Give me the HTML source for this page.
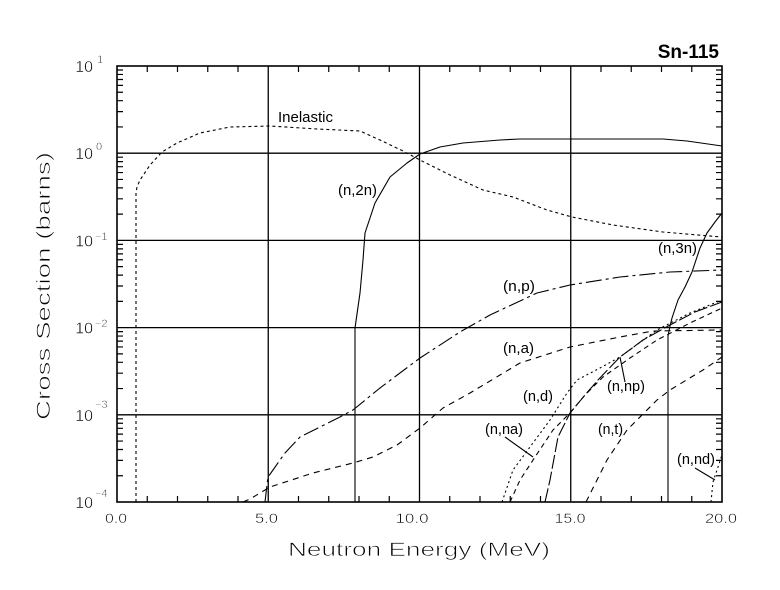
<!DOCTYPE html>
<html>
<head>
<meta charset="utf-8">
<style>
  html,body{margin:0;padding:0;background:#fff;}
  body{width:780px;height:590px;overflow:hidden;}
  svg{display:block;}
  text{font-family:"Liberation Sans",Arial,sans-serif;fill:#000;}
  .thin{stroke:#fff;stroke-width:0.7;paint-order:normal;}
  .thin2{stroke:#fff;stroke-width:0.45;}
</style>
</head>
<body>
<svg width="780" height="590" viewBox="0 0 780 590" xmlns="http://www.w3.org/2000/svg">
  <rect x="0" y="0" width="780" height="590" fill="#fff"/>

  <!-- grid -->
  <g stroke="#000" stroke-width="1.3" fill="none">
    <path d="M117,153.2H722 M117,240.4H722 M117,327.6H722 M117,414.8H722"/>
    <path d="M268.25,66V502 M419.5,66V502 M570.75,66V502"/>
  </g>

  <!-- frame -->
  <rect x="117" y="66" width="605" height="436" fill="none" stroke="#000" stroke-width="1.6"/>

  <!-- x minor ticks -->
  <g stroke="#000" stroke-width="1.2" fill="none">
    <path d="M147.25,502v-6M177.5,502v-6M207.75,502v-6M238,502v-6M298.5,502v-6M328.75,502v-6M359,502v-6M389.25,502v-6M449.75,502v-6M480,502v-6M510.25,502v-6M540.5,502v-6M601,502v-6M631.25,502v-6M661.5,502v-6M691.75,502v-6"/>
    <path d="M147.25,66v6M177.5,66v6M207.75,66v6M238,66v6M298.5,66v6M328.75,66v6M359,66v6M389.25,66v6M449.75,66v6M480,66v6M510.25,66v6M540.5,66v6M601,66v6M631.25,66v6M661.5,66v6M691.75,66v6"/>
    <!-- y minor ticks left -->
    <path d="M117,475.75h6M117,460.4h6M117,449.5h6M117,441.05h6M117,434.14h6M117,428.31h6M117,423.25h6M117,418.79h6
             M117,388.55h6M117,373.2h6M117,362.3h6M117,353.85h6M117,346.94h6M117,341.11h6M117,336.05h6M117,331.59h6
             M117,301.35h6M117,286h6M117,275.1h6M117,266.65h6M117,259.74h6M117,253.91h6M117,248.85h6M117,244.39h6
             M117,214.15h6M117,198.8h6M117,187.9h6M117,179.45h6M117,172.54h6M117,166.71h6M117,161.65h6M117,157.19h6
             M117,126.95h6M117,111.6h6M117,100.7h6M117,92.25h6M117,85.34h6M117,79.51h6M117,74.45h6M117,69.99h6"/>
    <!-- y minor ticks right -->
    <path d="M722,475.75h-6M722,460.4h-6M722,449.5h-6M722,441.05h-6M722,434.14h-6M722,428.31h-6M722,423.25h-6M722,418.79h-6
             M722,388.55h-6M722,373.2h-6M722,362.3h-6M722,353.85h-6M722,346.94h-6M722,341.11h-6M722,336.05h-6M722,331.59h-6
             M722,301.35h-6M722,286h-6M722,275.1h-6M722,266.65h-6M722,259.74h-6M722,253.91h-6M722,248.85h-6M722,244.39h-6
             M722,214.15h-6M722,198.8h-6M722,187.9h-6M722,179.45h-6M722,172.54h-6M722,166.71h-6M722,161.65h-6M722,157.19h-6
             M722,126.95h-6M722,111.6h-6M722,100.7h-6M722,92.25h-6M722,85.34h-6M722,79.51h-6M722,74.45h-6M722,69.99h-6"/>
  </g>

  <!-- curves -->
  <g fill="none" stroke="#000" stroke-width="1.1" stroke-linejoin="round">
    <!-- Inelastic (dotted) -->
    <polyline stroke-dasharray="3,3" points="136,502 136,193 137,187 140,180 150,165 162,152 177,143 200,133 230,127 270,126 317,129 360,131 380,140 403,151 420,160 450,175 483,190 513,197 547,210 572,217 613,225 663,232 722,237"/>
    <!-- (n,2n) solid -->
    <polyline points="355,502 355,328 360,293 363,260 365,233 375,203 390,177 407,163 420,154 440,147 463,143 500,140 520,139 663,139 687,141 722,146"/>
    <!-- (n,3n) solid -->
    <polyline points="668,502 668,336 670,326 672,318 678,300 685,287 692,272 700,248 707,233 715,222 722,213"/>
    <!-- (n,p) long dash-short dash -->
    <polyline stroke-dasharray="16,4,3,4" points="265,502 267,485 268,477 273,470 285,453 300,437 310,432 340,417 353,410 380,388 420,358 460,332 490,315 537,293 570,285 620,277 670,272 722,270"/>
    <!-- (n,a) dashed -->
    <polyline stroke-dasharray="6,5" points="243,502 250,499 270,487 313,473 353,463 373,457 397,445 420,428 443,408 470,393 520,363 570,347 620,337 653,331 722,330"/>
    <!-- (n,d) dotted -->
    <polyline stroke-dasharray="2,3" points="502,502 513,470 530,447 550,420 567,393 577,380 600,368 620,357 657,330 690,313 722,300"/>
    <!-- (n,np) -->
    <polyline stroke-dasharray="14,3" points="545,502 550,480 558,437 570,413 585,395 598,380 620,357 643,340 670,325 695,312 722,302"/>
    <!-- (n,na) dashed -->
    <polyline stroke-dasharray="5,4" points="510,502 520,480 535,457 553,430 570,413 585,395 603,377 630,358 657,340 690,323 722,308"/>
    <!-- (n,t) dashed -->
    <polyline stroke-dasharray="6,5" points="586,502 607,460 627,430 657,400 670,390 703,370 722,357"/>
    <!-- (n,nd) dotted -->
    <polyline stroke-dasharray="2,3" points="711,502 713,482 718,467 722,455"/>
    <!-- leader lines -->
    <path d="M505,437L533,457 M625,382L620,357 M695,468L715,480"/>
  </g>

  <!-- curve labels -->
  <g font-size="14.5">
    <text x="278" y="122" textLength="55" lengthAdjust="spacingAndGlyphs">Inelastic</text>
    <text x="338" y="195" textLength="39" lengthAdjust="spacingAndGlyphs">(n,2n)</text>
    <text x="658" y="253" textLength="39" lengthAdjust="spacingAndGlyphs">(n,3n)</text>
    <text x="503" y="291" textLength="32" lengthAdjust="spacingAndGlyphs">(n,p)</text>
    <text x="503" y="353" textLength="31" lengthAdjust="spacingAndGlyphs">(n,a)</text>
    <text x="607" y="391" textLength="38" lengthAdjust="spacingAndGlyphs">(n,np)</text>
    <text x="523" y="401" textLength="30" lengthAdjust="spacingAndGlyphs">(n,d)</text>
    <text x="485" y="434" textLength="38" lengthAdjust="spacingAndGlyphs">(n,na)</text>
    <text x="598" y="434" textLength="25" lengthAdjust="spacingAndGlyphs">(n,t)</text>
    <text x="677" y="464" textLength="38" lengthAdjust="spacingAndGlyphs">(n,nd)</text>
  </g>

  <!-- title -->
  <text x="719" y="58" font-size="19" font-weight="bold" text-anchor="end">Sn-115</text>

  <!-- x tick labels -->
  <g font-size="14" text-anchor="middle" class="thin2">
    <text x="116" y="523" textLength="22" lengthAdjust="spacingAndGlyphs">0.0</text>
    <text x="266.5" y="523" textLength="23" lengthAdjust="spacingAndGlyphs">5.0</text>
    <text x="412" y="523" textLength="33" lengthAdjust="spacingAndGlyphs">10.0</text>
    <text x="570" y="523" textLength="31" lengthAdjust="spacingAndGlyphs">15.0</text>
    <text x="721" y="523" textLength="32" lengthAdjust="spacingAndGlyphs">20.0</text>
  </g>

  <!-- y tick labels -->
  <g font-size="16" class="thin2">
    <text x="93" y="72" text-anchor="end">10</text>
    <text x="97" y="63" font-size="11">1</text>
    <text x="93" y="159" text-anchor="end">10</text>
    <text x="96" y="150" font-size="11">0</text>
    <text x="93" y="246.5" text-anchor="end">10</text>
    <text x="95" y="240" font-size="11">−1</text>
    <text x="93" y="333.5" text-anchor="end">10</text>
    <text x="95" y="327" font-size="11">−2</text>
    <text x="93" y="421" text-anchor="end">10</text>
    <text x="95" y="408" font-size="11">−3</text>
    <text x="93" y="508" text-anchor="end">10</text>
    <text x="95" y="497" font-size="11">−4</text>
  </g>

  <!-- axis titles -->
  <text class="thin" x="288" y="556" font-size="19" textLength="262" lengthAdjust="spacingAndGlyphs">Neutron Energy (MeV)</text>
  <text class="thin" transform="translate(50,420) rotate(-90)" x="0" y="0" font-size="19" textLength="268" lengthAdjust="spacingAndGlyphs">Cross Section (barns)</text>
</svg>
</body>
</html>
